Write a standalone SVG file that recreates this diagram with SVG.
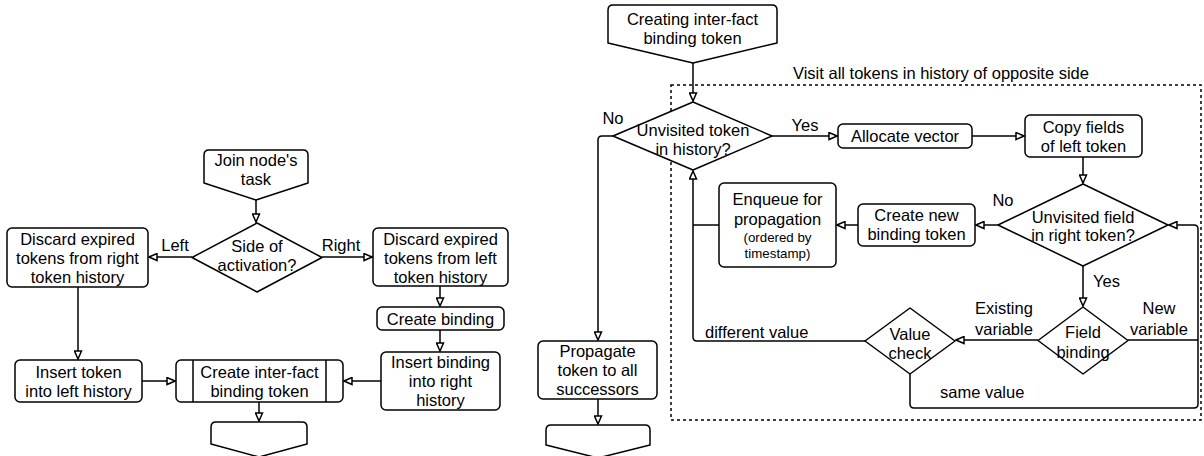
<svg xmlns="http://www.w3.org/2000/svg" width="1204" height="456" viewBox="0 0 1204 456">
<style>
.s{fill:#fff;stroke:#000;stroke-width:1.5;stroke-linejoin:round}
.c{fill:none;stroke:#000;stroke-width:1.5;stroke-linejoin:round}
.d{fill:none;stroke:#000;stroke-width:1.5;stroke-dasharray:3 3}
text{font-family:"Liberation Sans",Arial,Helvetica,sans-serif;font-size:16.5px;fill:#000;dominant-baseline:central}
.m{text-anchor:middle}
.sm{font-size:13.3px}
</style>
<defs>
<marker id="a" viewBox="0 0 10 9" refX="9" refY="4.5" markerWidth="10" markerHeight="9" markerUnits="userSpaceOnUse" orient="auto">
<path d="M1,1 L9,4.5 L1,8 Z" fill="#fff" stroke="#000" stroke-width="1.5" stroke-linejoin="miter"/>
</marker>
</defs>

<g id="visit-frame">
<rect class="d" x="671" y="85" width="530" height="335"/>
<text x="793" y="73">Visit all tokens in history of opposite side</text>
</g>

<g id="connectors">
<path class="c" d="M256,200 V222" marker-end="url(#a)"/>
<path class="c" d="M192,257 H149" marker-end="url(#a)"/>
<path class="c" d="M322,257 H372" marker-end="url(#a)"/>
<path class="c" d="M78,287 V359" marker-end="url(#a)"/>
<path class="c" d="M142,381 H175" marker-end="url(#a)"/>
<path class="c" d="M259,402 V421" marker-end="url(#a)"/>
<path class="c" d="M440,286 V306" marker-end="url(#a)"/>
<path class="c" d="M440,330 V351" marker-end="url(#a)"/>
<path class="c" d="M381,381 H344" marker-end="url(#a)"/>
<path class="c" d="M693,63 V101" marker-end="url(#a)"/>
<path class="c" d="M613,136 H602 Q598,136 598,140 V340" marker-end="url(#a)"/>
<path class="c" d="M598,399 V424" marker-end="url(#a)"/>
<path class="c" d="M772,136 H837" marker-end="url(#a)"/>
<path class="c" d="M972,136 H1024" marker-end="url(#a)"/>
<path class="c" d="M1083,157 V183" marker-end="url(#a)"/>
<path class="c" d="M998,225 H976" marker-end="url(#a)"/>
<path class="c" d="M858,225 H837" marker-end="url(#a)"/>
<path class="c" d="M719,225 H693"/>
<path class="c" d="M865,341 H697 Q693,341 693,337 V171" marker-end="url(#a)"/>
<path class="c" d="M1083,266 V306" marker-end="url(#a)"/>
<path class="c" d="M1038,340 H956" marker-end="url(#a)"/>
<path class="c" d="M1128,340 H1198"/>
<path class="c" d="M910,374 V404 Q910,408 914,408 H1194 Q1198,408 1198,404 V229 Q1198,225 1194,225 H1169" marker-end="url(#a)"/>
<text class="m" x="175" y="245">Left</text>
<text class="m" x="341" y="245">Right</text>
<text class="m" x="613" y="118">No</text>
<text class="m" x="805" y="125">Yes</text>
<text class="m" x="1003" y="200">No</text>
<text x="1093" y="281">Yes</text>
<text class="m" x="1004" y="308">Existing</text>
<text class="m" x="1004" y="329">variable</text>
<text class="m" x="1159" y="308">New</text>
<text class="m" x="1159" y="329">variable</text>
<text x="705" y="332">different value</text>
<text x="940" y="392">same value</text>
</g>

<g id="join-task">
<path class="s" d="M209,150 H303 Q308,150 308,155 V183 L256,200 L204,183 V155 Q204,150 209,150 Z"/>
<text class="m" x="256" y="160">Join node's</text>
<text class="m" x="256" y="179">task</text>
</g>

<g id="side-of-activation">
<path class="s" d="M257,223 L322,257.5 L257,292 L192,257.5 Z"/>
<text class="m" x="257" y="246">Side of</text>
<text class="m" x="257" y="265">activation?</text>
</g>

<g id="discard-right">
<rect class="s" x="7" y="228" width="141" height="59" rx="5"/>
<text class="m" x="77.5" y="238.5">Discard expired</text>
<text class="m" x="77.5" y="257.5">tokens from right</text>
<text class="m" x="77.5" y="276.5">token history</text>
</g>

<g id="discard-left">
<rect class="s" x="373" y="228" width="135" height="58" rx="5"/>
<text class="m" x="440.5" y="238.5">Discard expired</text>
<text class="m" x="440.5" y="257.5">tokens from left</text>
<text class="m" x="440.5" y="276.5">token history</text>
</g>

<g id="insert-token-left">
<rect class="s" x="15" y="360" width="127" height="42" rx="5"/>
<text class="m" x="78.5" y="371.5">Insert token</text>
<text class="m" x="78.5" y="390.5">into left history</text>
</g>

<g id="create-inter-fact">
<rect class="s" x="176" y="360" width="167" height="42" rx="5"/>
<path class="c" d="M193,360 V402 M326,360 V402"/>
<text class="m" x="259.5" y="371.5">Create inter-fact</text>
<text class="m" x="259.5" y="390.5">binding token</text>
</g>

<g id="end-left">
<path class="s" d="M216,422 H302 Q307,422 307,427 V444 L259,457 L211,444 V427 Q211,422 216,422 Z"/>
</g>

<g id="create-binding">
<rect class="s" x="377" y="307" width="127" height="23" rx="5"/>
<text class="m" x="440.5" y="318.5">Create binding</text>
</g>

<g id="insert-binding-right">
<rect class="s" x="381" y="352" width="119" height="58" rx="5"/>
<text class="m" x="440.5" y="362">Insert binding</text>
<text class="m" x="440.5" y="381">into right</text>
<text class="m" x="440.5" y="400">history</text>
</g>

<g id="creating-inter-fact">
<path class="s" d="M613,5 H772 Q777,5 777,10 V43 L693,63 L608,43 V10 Q608,5 613,5 Z"/>
<text class="m" x="692.5" y="19">Creating inter-fact</text>
<text class="m" x="692.5" y="38">binding token</text>
</g>

<g id="unvisited-token">
<path class="s" d="M693,102 L772,136 L693,170 L613,136 Z"/>
<text class="m" x="693" y="130">Unvisited token</text>
<text class="m" x="693" y="149">in history?</text>
</g>

<g id="propagate">
<rect class="s" x="538" y="341" width="119" height="58" rx="5"/>
<text class="m" x="597.5" y="351">Propagate</text>
<text class="m" x="597.5" y="370">token to all</text>
<text class="m" x="597.5" y="389">successors</text>
</g>

<g id="end-right">
<path class="s" d="M551,425 H645 Q650,425 650,430 V445 L598,458 L546,445 V430 Q546,425 551,425 Z"/>
</g>

<g id="allocate-vector">
<rect class="s" x="838" y="124" width="134" height="24" rx="5"/>
<text class="m" x="905" y="136">Allocate vector</text>
</g>

<g id="copy-fields">
<rect class="s" x="1025" y="115" width="117" height="42" rx="5"/>
<text class="m" x="1083.5" y="127">Copy fields</text>
<text class="m" x="1083.5" y="146">of left token</text>
</g>

<g id="unvisited-field">
<path class="s" d="M1083,184 L1168,225 L1083,266 L998,225 Z"/>
<text class="m" x="1083" y="217">Unvisited field</text>
<text class="m" x="1083" y="235">in right token?</text>
</g>

<g id="create-new-binding">
<rect class="s" x="858" y="204" width="117" height="42" rx="5"/>
<text class="m" x="916.5" y="215">Create new</text>
<text class="m" x="916.5" y="234">binding token</text>
</g>

<g id="enqueue">
<rect class="s" x="719" y="183" width="117" height="84" rx="5"/>
<text class="m" x="777.5" y="199">Enqueue for</text>
<text class="m" x="777.5" y="219">propagation</text>
<text class="m sm" x="777.5" y="237">(ordered by</text>
<text class="m sm" x="777.5" y="253">timestamp)</text>
</g>

<g id="field-binding">
<path class="s" d="M1083,307 L1128,340.5 L1083,374 L1038,340.5 Z"/>
<text class="m" x="1083" y="332">Field</text>
<text class="m" x="1083" y="352">binding</text>
</g>

<g id="value-check">
<path class="s" d="M910,308 L955,341 L910,374 L865,341 Z"/>
<text class="m" x="910" y="334">Value</text>
<text class="m" x="910" y="353">check</text>
</g>
</svg>
